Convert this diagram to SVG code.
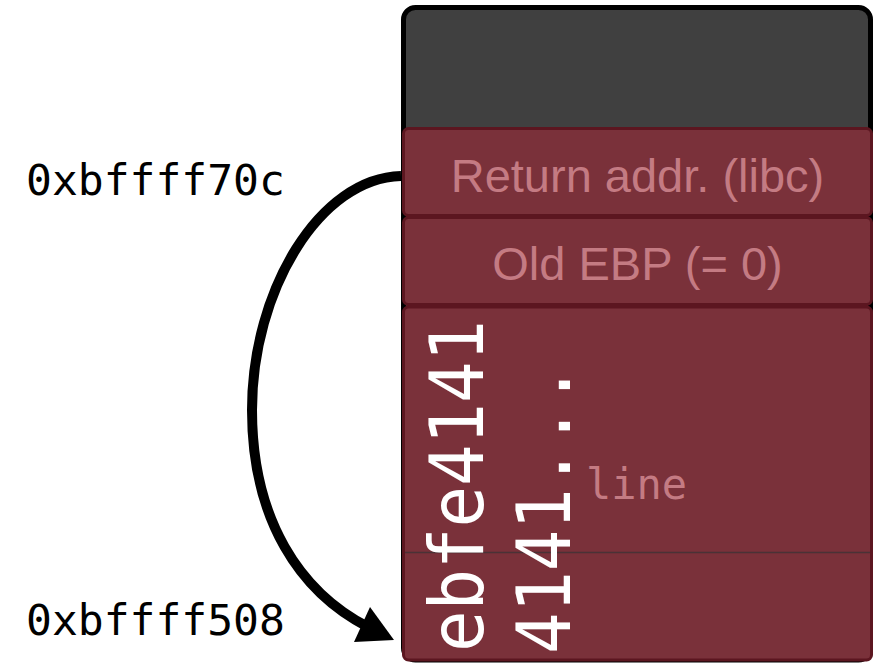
<svg xmlns="http://www.w3.org/2000/svg" width="884" height="664" viewBox="0 0 884 664">
  <style>
    .slot { fill: #7a313a; stroke: #5c1620; stroke-width: 3; }
    .label { font-family: "Liberation Sans", Arial, sans-serif; font-size: 47px; fill: #c47b83; text-anchor: middle; }
    .addr { font-family: "DejaVu Sans Mono", "Liberation Mono", monospace; font-size: 43px; fill: #000000; }
    .hex { font-family: "DejaVu Sans Mono", "Liberation Mono", monospace; font-size: 74px; fill: #ffffff; }
    .tag { font-family: "DejaVu Sans Mono", "Liberation Mono", monospace; font-size: 42px; fill: #c47b83; }
  </style>

  <rect width="884" height="664" fill="#ffffff"/>

  <!-- stack frame -->
  <g id="frame">
    <rect x="403.5" y="7.5" width="467" height="652.5" rx="12" fill="#404040" stroke="#000000" stroke-width="5"/>
  </g>

  <g id="ret-addr">
    <rect class="slot" x="403.5" y="128.5" width="468" height="87" rx="5"/>
    <text class="label" x="637.5" y="192">Return addr. (libc)</text>
  </g>

  <g id="old-ebp">
    <rect class="slot" x="403.5" y="217.5" width="468" height="87" rx="5"/>
    <text class="label" x="637.5" y="280">Old EBP (= 0)</text>
  </g>

  <g id="line-buffer">
    <rect class="slot" x="403.5" y="307" width="468" height="353" rx="5"/>
    <line x1="405" y1="552.5" x2="870" y2="552.5" stroke="#4a3236" stroke-width="1.5"/>
    <text class="tag" x="586" y="499">line</text>
    <text class="hex" transform="translate(483,652) rotate(-90)" textLength="332" lengthAdjust="spacingAndGlyphs">ebfe4141</text>
    <text class="hex" transform="translate(570,654) rotate(-90)" textLength="290" lengthAdjust="spacingAndGlyphs">4141...</text>
  </g>

  <g id="addr-top">
    <text class="addr" x="26" y="195">0xbffff70c</text>
  </g>
  <g id="addr-bottom">
    <text class="addr" x="26" y="635">0xbffff508</text>
  </g>

  <!-- return address points back into the buffer -->
  <g id="connectors">
    <path d="M401,176 C320,178 252,290 252,410 C252,520 300,592 368,627" fill="none" stroke="#000000" stroke-width="10"/>
    <polygon points="394,640 370,607 354,642" fill="#000000"/>
  </g>
</svg>
